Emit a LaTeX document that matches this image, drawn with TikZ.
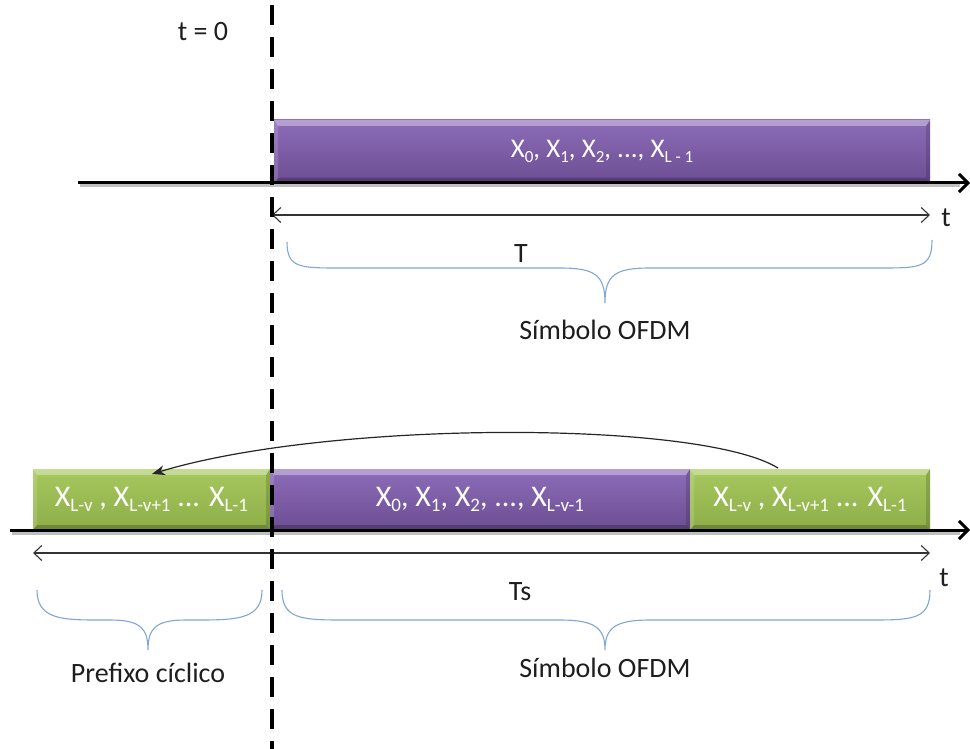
\documentclass[tikz,border=0pt]{standalone}
\usepackage{fontspec}
\setmainfont{Carlito}
\usetikzlibrary{arrows.meta,shadings}
\newcommand{\lsub}[1]{\raisebox{-0.35ex}{\fontsize{17}{17}\selectfont #1}}
\newcommand{\bsub}[1]{\raisebox{-0.35ex}{\fontsize{19}{19}\selectfont #1}}
\definecolor{txt}{HTML}{1E1E1E}
\definecolor{braceblue}{HTML}{7FA6D6}
\definecolor{purtop}{HTML}{8C6CB8}
\definecolor{purbot}{HTML}{6C4E93}
\definecolor{grntop}{HTML}{A6C85E}
\definecolor{grnbot}{HTML}{8EAE48}
\tikzset{
  lbl/.style={font=\fontsize{28}{30}\selectfont, text=txt, inner sep=0pt},
  boxlbl/.style={font=\fontsize{27}{29}\selectfont, text=white},
  bigbox/.style={font=\fontsize{30}{32}\selectfont},
  bevel/.style={path picture={
    \fill[white,opacity=0.35] (path picture bounding box.north west) -- (path picture bounding box.north east) -- ([shift={(-4pt,-6pt)}]path picture bounding box.north east) -- ([shift={(4pt,-6pt)}]path picture bounding box.north west) -- cycle;
    \fill[black,opacity=0.22] (path picture bounding box.south west) -- (path picture bounding box.south east) -- ([shift={(-4pt,5pt)}]path picture bounding box.south east) -- ([shift={(4pt,5pt)}]path picture bounding box.south west) -- cycle;
    \fill[black,opacity=0.15] (path picture bounding box.north east) -- (path picture bounding box.south east) -- ([shift={(-4pt,5pt)}]path picture bounding box.south east) -- ([shift={(-4pt,-6pt)}]path picture bounding box.north east) -- cycle;
    \fill[white,opacity=0.15] (path picture bounding box.north west) -- (path picture bounding box.south west) -- ([shift={(4pt,5pt)}]path picture bounding box.south west) -- ([shift={(4pt,-6pt)}]path picture bounding box.north west) -- cycle;
  }},
  purbox/.style={rectangle, inner sep=0pt, top color=purtop, bottom color=purbot, bevel, boxlbl},
  grnbox/.style={rectangle, inner sep=0pt, top color=grntop, bottom color=grnbot, bevel, boxlbl},
  axis/.style={line width=3pt, black, -{Straight Barb[length=9pt,width=18pt,line width=3pt]}},
  axshadow/.style={line width=3pt, black!25},
  dimarrow/.style={line width=1.1pt, black!80, {Straight Barb[length=8pt,width=15pt]}-{Straight Barb[length=8pt,width=15pt]}},
  bracepath/.style={line width=1.1pt, braceblue},
  tzero/.style={line width=4pt, black, dash pattern=on 20pt off 12pt, dash phase=-5pt}
}
\begin{document}
\begin{tikzpicture}[x=1pt,y=-1pt]
\useasboundingbox (0,0) rectangle (970,749);
% ---------- top ----------
\node[purbox, minimum width=656pt, minimum height=63pt] (sym) at (602,151.5) {X\lsub{0}, X\lsub{1}, X\lsub{2}, ..., X\lsub{L - 1}};
\coordinate (ax1s) at (78,183);
\coordinate (ax1e) at (970,183);
\draw[axshadow] (80,186) -- (960,186);
\draw[axis] (ax1s) -- (ax1e);
\coordinate (d1s) at (272,215);
\coordinate (d1e) at (930,215);
\draw[dimarrow] (d1s) -- (d1e);
\node[lbl] (t1) at (946,218) {t};
\node[lbl] (T) at (521,254) {T};
\draw[bracepath] (287,242) .. controls (287,268) and (300,268) .. (340,268) -- (560,268) .. controls (595,268) and (605,275) .. (605,303)
  .. controls (605,275) and (615,268) .. (650,268) -- (880,268) .. controls (920,268) and (932,268) .. (932,240);
\node[lbl] (sym1) at (605,330) {Símbolo OFDM};
% ---------- bottom ----------
\node[grnbox, bigbox, minimum width=237pt, minimum height=61pt] (cp) at (151.5,499.5) {X\bsub{L-v} , X\bsub{L-v+1} ... X\bsub{L-1}};
\node[purbox, bigbox, minimum width=420pt, minimum height=61pt] (mid) at (480,499.5) {X\bsub{0}, X\bsub{1}, X\bsub{2}, ..., X\bsub{L-v-1}};
\node[grnbox, bigbox, minimum width=240pt, minimum height=61pt] (tail) at (810,499.5) {X\bsub{L-v} , X\bsub{L-v+1} ... X\bsub{L-1}};
\coordinate (ax2s) at (10,530);
\coordinate (ax2e) at (970,530);
\draw[axshadow] (12,533) -- (960,533);
\draw[axis] (ax2s) -- (ax2e);
\coordinate (cs) at (778,468);
\coordinate (ce) at (152,474);
\draw[line width=1.2pt, black!85, -{Stealth[length=13pt,width=10pt]}] (cs) .. controls (700,420) and (330,420) .. (ce);
\coordinate (d2s) at (33,553);
\coordinate (d2e) at (930,553);
\draw[dimarrow] (d2s) -- (d2e);
\node[lbl] (t2) at (944,578) {t};
\node[lbl] (Ts) at (520,592) {Ts};
\draw[bracepath] (37,590) .. controls (37,618) and (60,620) .. (95,620) -- (110,620) .. controls (140,620) and (148,628) .. (148,650)
  .. controls (148,628) and (156,620) .. (186,620) -- (200,620) .. controls (240,620) and (262,618) .. (262,590);
\draw[bracepath] (282,590) .. controls (282,618) and (300,620) .. (340,620) -- (560,620) .. controls (595,620) and (605,628) .. (605,650)
  .. controls (605,628) and (615,620) .. (650,620) -- (875,620) .. controls (915,620) and (930,618) .. (930,590);
\node[lbl] (pc) at (148,673) {Prefixo cíclico};
\node[lbl] (sym2) at (605,668) {Símbolo OFDM};
% ---------- t = 0 ----------
\node[lbl] (t0) at (203,32) {t = 0};
\coordinate (vt) at (272,0);
\coordinate (vb) at (272,749);
\draw[tzero] (vt) -- (vb);
\end{tikzpicture}
\end{document}
